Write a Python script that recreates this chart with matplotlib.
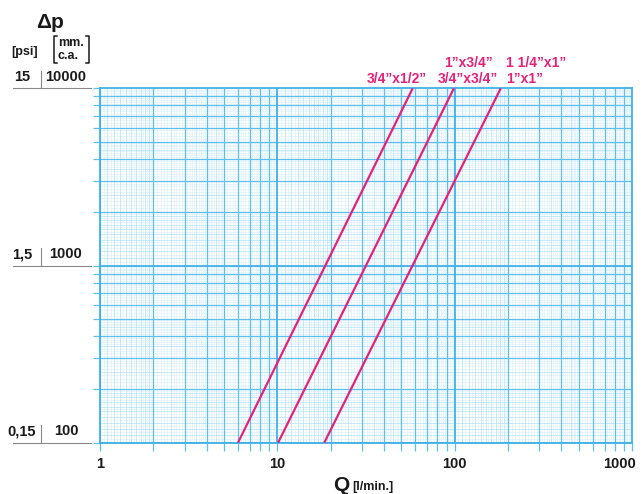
import numpy as np
import matplotlib
matplotlib.use("Agg")
import matplotlib.pyplot as plt
from matplotlib.lines import Line2D

plt.rcParams['font.family'] = ['Liberation Sans', 'DejaVu Sans']

# --- DATA ---
dp_mm = [100, 10000]                 # pressure drop [mm c.a.]
q_34x12 = [6.0, 58.0]                # 3/4"x1/2"
q_34x34 = [10.1, 99.0]               # 3/4"x3/4" and 1"x3/4"
q_1x1 = [18.4, 182.0]                # 1"x1" and 1 1/4"x1"
x_tick_vals = [1, 10, 100, 1000]
x_tick_labels = ["1", "10", "100", "1000"]
y_mm_vals = [100, 1000, 10000]
y_mm_labels = ["100", "1000", "10000"]
y_psi_labels = ["0,15", "1,5", "15"]

MAGENTA = "#e3237a"
BLUE = "#3fb1e5"
BLUE_MID = "#5ebfea"
BLUE_LIGHT = "#b4e1f5"
BLUE_FINE = "#dff2fb"
INK = "#1a1a1a"
W, H = 641, 494


def fx(px):
    return px / W


def fy(py):
    return 1 - py / H


def paper_levels(decades):
    # log graph paper: decade, integer, light and fine sub-divisions
    fine, light, mid, major = [], [], [], []
    for d in decades:
        major.append(d)
        mid += [d * k for k in range(2, 10)]
        light += [d * (1 + 0.1 * k) for k in range(1, 10)]
        light += [d * v for v in (2.5, 3.5, 4.5)]
        fine += [d * (1.05 + 0.1 * k) for k in range(10)]
        fine += [d * (2 + 0.1 * k) for k in range(1, 30) if k % 5]
        fine += [d * (5 + 0.2 * k) for k in range(1, 25) if k % 5]
    return fine, light, mid, major


fig = plt.figure(figsize=(6.41, 4.94), dpi=100)
ax = fig.add_axes([fx(100), 1 - 442.7 / H, (632 - 100) / W, (442.7 - 88.3) / H])
ax.set_xscale('log')
ax.set_yscale('log')
ax.set_xlim(1, 1000)
ax.set_ylim(100, 10000)

xf, xl, xm, xM = paper_levels([1, 10, 100])
yf, yl, ym, yM = paper_levels([100, 1000])
ax.vlines(xf, 100, 10000, colors=BLUE_FINE, lw=0.5, zorder=1)
ax.hlines(yf, 1, 1000, colors=BLUE_FINE, lw=0.5, zorder=1)
ax.vlines(xl, 100, 10000, colors=BLUE_LIGHT, lw=0.5, zorder=1)
ax.hlines(yl, 1, 1000, colors=BLUE_LIGHT, lw=0.5, zorder=1)
ax.vlines(xm, 100, 10000, colors=BLUE_MID, lw=0.9, zorder=2)
ax.hlines(ym, 1, 1000, colors=BLUE_MID, lw=0.9, zorder=2)
ax.vlines(xM, 100, 10000, colors=BLUE, lw=1.3, zorder=2)
ax.hlines(yM, 1, 1000, colors=BLUE, lw=1.3, zorder=2)

for sp in ax.spines.values():
    sp.set_color(BLUE)
    sp.set_linewidth(1.3)

ax.set_xticks(xM + xm + [1000])
ax.set_xticks([], minor=True)
ax.set_xticklabels([])
ax.set_yticks(yM + ym + [10000])
ax.set_yticks([], minor=True)
ax.set_yticklabels([])
ax.tick_params(axis='x', length=6, width=0.9, color=BLUE_MID)
ax.tick_params(axis='y', length=5, width=0.9, color=BLUE_MID)

# curves
for q in (q_34x12, q_34x34, q_1x1):
    ax.plot(q, dp_mm, color=MAGENTA, lw=1.6, zorder=5, solid_capstyle='butt')

# curve labels
lab = dict(color=MAGENTA, fontsize=10, fontweight='bold')
fig.text(fx(397), fy(79), "3/4\u201dx1/2\u201d", ha='center', va='center', **lab)
fig.text(fx(468), fy(79), "3/4\u201dx3/4\u201d", ha='center', va='center', **lab)
fig.text(fx(468), fy(63), "1\u201dx3/4\u201d", ha='center', va='center', **lab)
fig.text(fx(506), fy(79), "1\u201dx1\u201d", ha='left', va='center', **lab)
fig.text(fx(506), fy(63), "1 1/4\u201dx1\u201d", ha='left', va='center', **lab)

# x tick labels
xb = ax.get_xaxis_transform()
for v, s in zip(x_tick_vals, x_tick_labels):
    dx = -9 if s == "1000" else 0
    ax.annotate(s, xy=(v, 0), xycoords=xb, xytext=(dx, -10), textcoords='offset points',
                ha='center', va='top', fontsize=10.5, fontweight='bold', color=INK)

fig.text(fx(333), fy(485), "Q", ha='left', va='center', fontsize=15, fontweight='bold', color=INK)
fig.text(fx(352), fy(487), "[l/min.]", ha='left', va='center', fontsize=9, fontweight='bold', color=INK)

# left pressure scales
yb = ax.get_yaxis_transform()
for v, mm, psi in zip(y_mm_vals, y_mm_labels, y_psi_labels):
    ax.text((22 - 100) / 532, v * 1.06, psi, transform=yb, ha='center', va='bottom',
            fontsize=10.5, fontweight='bold', color=INK)
    ax.text((66 - 100) / 532, v * 1.06, mm, transform=yb, ha='center', va='bottom',
            fontsize=10.5, fontweight='bold', color=INK)
    ax.plot([(13 - 100) / 532, (91 - 100) / 532], [v, v], transform=yb, color='#888888',
            lw=0.8, clip_on=False)
    ax.plot([(41 - 100) / 532] * 2, [v, v * 1.26], transform=yb, color='#888888',
            lw=0.8, clip_on=False)

fig.text(fx(50), fy(22), "\u0394p", ha='center', va='center', fontsize=15, fontweight='bold', color=INK)
fig.text(fx(25), fy(52), "[psi]", ha='center', va='center', fontsize=9, fontweight='bold', color=INK)
fig.text(fx(58), fy(43), "mm.", ha='left', va='center', fontsize=9, fontweight='bold', color=INK)
fig.text(fx(58), fy(56), "c.a.", ha='left', va='center', fontsize=9, fontweight='bold', color=INK)
for x0, x1 in ((57, 54), (86, 89)):
    fig.add_artist(Line2D([fx(x0), fx(x1), fx(x1), fx(x0)], [fy(36), fy(36), fy(63), fy(63)],
                          color=INK, lw=1.1, transform=fig.transFigure))

fig.savefig("out.png", dpi=100, facecolor='white')
